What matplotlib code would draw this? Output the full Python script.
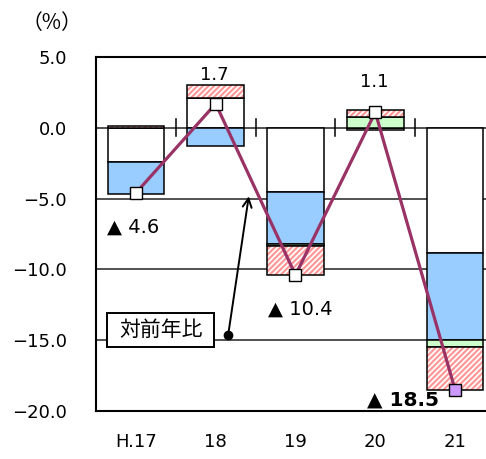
import matplotlib.pyplot as plt
import numpy as np
from matplotlib.patches import Rectangle

plt.rcParams['font.family'] = ['DejaVu Sans', 'Noto Sans CJK JP']
plt.rcParams['hatch.linewidth'] = 1.6

# contribution components (percentage points) and year-on-year change
years = ['H.17', '18', '19', '20', '21']
white_part = [-2.45, 2.1, -4.5, -0.15, -8.85]
blue_part = [-2.25, -1.3, -3.7, 0.0, -6.15]
green_part = [0.0, 0.0, -0.15, 0.75, -0.5]
red_part = [0.1, 0.9, -2.05, 0.5, -3.0]
yoy = [-4.6, 1.7, -10.4, 1.1, -18.5]
yoy_labels = ['▲ 4.6', '1.7', '▲ 10.4', '1.1', '▲ 18.5']

x = np.arange(len(years))
w = 0.71

fig = plt.figure(figsize=(4.86, 4.59), dpi=100)
ax = fig.add_axes([0.1975, 0.1046, 0.821, 0.7712])

pos = np.zeros(len(x))
neg = np.zeros(len(x))
styles = [('white', None), ('#99CCFF', None), ('#CCFFCC', None), ('white', '#FF9999')]
for vals, (fc, hc) in zip([white_part, blue_part, green_part, red_part], styles):
    vals = np.array(vals)
    base = np.where(vals >= 0, pos, neg)
    if hc:
        ax.bar(x, vals, w, bottom=base, color=fc, edgecolor=hc, hatch='//////',
               linewidth=0, zorder=2)
        ax.bar(x, vals, w, bottom=base, fill=False, edgecolor='black',
               linewidth=1.1, zorder=2)
    else:
        ax.bar(x, vals, w, bottom=base, color=fc, edgecolor='black',
               linewidth=1.1, zorder=2)
    pos += np.where(vals >= 0, vals, 0)
    neg += np.where(vals < 0, vals, 0)

# year-on-year line
ax.plot(x, yoy, color='#993366', lw=2.3, zorder=3)
ax.plot(x[:-1], yoy[:-1], 's', ms=9, mfc='white', mec='black', mew=1.0, zorder=4)
ax.plot(x[-1:], yoy[-1:], 's', ms=9, mfc='#CC99FF', mec='black', mew=1.0, zorder=4)

# horizontal gridlines and category marks on the zero line
for yv in [0, -5, -10, -15]:
    ax.axhline(yv, color='#222222', lw=1.1, zorder=1)
for b in x[:-1] + 0.5:
    ax.plot([b, b], [-0.55, 0.6], color='black', lw=1.1, zorder=1)

# value labels
ax.text(-0.36, -7.0, yoy_labels[0], fontsize=14, va='center', ha='left')
ax.text(0.98, 3.75, yoy_labels[1], fontsize=13, va='center', ha='center')
ax.text(1.66, -12.8, yoy_labels[2], fontsize=14, va='center', ha='left')
ax.text(2.99, 3.25, yoy_labels[3], fontsize=13, va='center', ha='center')
ax.text(2.89, -19.2, yoy_labels[4], fontsize=14.5, va='center', ha='left',
        fontweight='bold')

# callout box for the line
ax.add_patch(Rectangle((-0.356, -15.45), 1.336, 2.35, fc='white', ec='black',
                       lw=1.4, zorder=5))
ax.text(0.312, -14.25, '対前年比', fontsize=15, ha='center', va='center', zorder=6)
ax.annotate('', xy=(1.42, -4.64), xytext=(1.156, -14.64),
            arrowprops=dict(arrowstyle='->', color='black', lw=1.4,
                            mutation_scale=16), zorder=5)
ax.plot([1.156], [-14.64], 'o', color='black', ms=6, zorder=5)

ax.set_xlim(-0.5, 4.5)
ax.set_ylim(-20, 5)
ax.set_yticks([5, 0, -5, -10, -15, -20])
ax.set_yticklabels(['5.0', '0.0', '\u22125.0', '\u221210.0', '\u221215.0', '\u221220.0'])
ax.set_xticks(x)
ax.set_xticklabels(years)
ax.tick_params(axis='y', length=0, pad=21, labelsize=13)
ax.tick_params(axis='x', length=0, pad=16, labelsize=13)
for s in ax.spines.values():
    s.set_linewidth(1.5)
    s.set_color('black')

fig.text(0.107, 0.95, '（%）', fontsize=15, ha='center', va='center',
         family='Noto Sans CJK JP')

fig.savefig('out.png', dpi=100)
